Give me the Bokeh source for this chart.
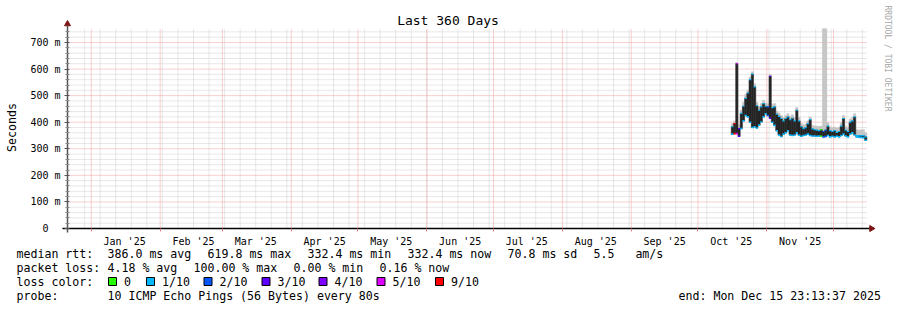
import math
import pandas as pd
from bokeh.plotting import figure
from bokeh.models import Range1d, FixedTicker, Label, BoxAnnotation
from bokeh.embed import file_html
from bokeh.resources import INLINE

# ---------------- data ----------------
REF = pd.Timestamp("2024-12-20")
first_day = "2025-10-16"

# median rtt band per day (ms): lower / upper envelope of the median line
med_lo = [355, 357, 357, 347, 376, 405, 425, 420, 400, 380,
          383, 378, 389, 401, 420, 432, 425, 415, 400, 388,
          368, 352, 346, 355, 360, 368, 352, 350, 352, 360,
          351, 347, 350, 352, 355, 350, 348, 348, 347, 348,
          347, 345, 346, 350, 345, 347, 345, 347, 345, 350,
          355, 348, 345, 355, 360, 352, 345, 344, 343, 342,
          332]
med_hi = [383, 395, 620, 376, 433, 460, 490, 510, 560, 581,
          533, 462, 445, 458, 470, 460, 458, 573, 455, 458,
          430, 422, 414, 405, 414, 420, 410, 415, 405, 445,
          405, 383, 376, 380, 395, 410, 375, 372, 370, 368,
          372, 365, 370, 385, 368, 365, 368, 362, 365, 385,
          414, 370, 365, 400, 405, 420, 350, 349, 350, 350,
          345]
# top of the grey "smoke" (ms)
smoke_hi = [395, 405, 625, 390, 445, 475, 505, 520, 570, 590,
            545, 475, 458, 470, 482, 472, 470, 580, 468, 470,
            442, 435, 425, 418, 425, 432, 422, 428, 418, 455,
            418, 395, 390, 392, 405, 420, 388, 386, 385, 384,
            386, 752, 752, 398, 382, 380, 382, 378, 380, 398,
            425, 384, 380, 412, 418, 432, 372, 370, 372, 372,
            360]
# packet loss per day (tenths)
loss_tenths = [1, 9, 5, 3, 1, 1, 1, 1, 1, 1,
               1, 1, 1, 1, 1, 1, 2, 3, 1, 1,
               1, 1, 1, 1, 1, 1, 1, 1, 1, 1,
               1, 1, 1, 1, 1, 1, 1, 1, 1, 1,
               0, 2, 2, 1, 1, 1, 1, 1, 1, 1,
               1, 1, 1, 1, 1, 1, 1, 1, 1, 1,
               1]

loss_keys = [0, 1, 2, 3, 4, 5, 9]
loss_names = ["0", "1/10", "2/10", "3/10", "4/10", "5/10", "9/10"]
loss_colors = ["#26ff00", "#00b8ff", "#0059ff", "#5e00ff", "#7e00ff", "#dd00ff", "#ff0000"]

month_starts = ["2025-01-01", "2025-02-01", "2025-03-01", "2025-04-01", "2025-05-01",
                "2025-06-01", "2025-07-01", "2025-08-01", "2025-09-01", "2025-10-01",
                "2025-11-01", "2025-12-01"]
month_labels = ["Jan '25", "Feb '25", "Mar '25", "Apr '25", "May '25", "Jun '25",
                "Jul '25", "Aug '25", "Sep '25", "Oct '25", "Nov '25"]
y_ticks = [0, 100, 200, 300, 400, 500, 600, 700]
y_tick_labels = ["0\u00a0\u00a0", "100 m", "200 m", "300 m", "400 m", "500 m", "600 m", "700 m"]

title_text = "Last 360 Days"
legend_rtt = [(16, "median rtt:"), (107, "386.0 ms avg"), (207, "619.8 ms max"),
              (307, "332.4 ms min"), (407, "332.4 ms now"), (507, "70.8 ms sd"),
              (593, "5.5\u00a0\u00a0\u00a0am/s")]
legend_loss = [(16, "packet loss:"), (107, "4.18 % avg"), (193, "100.00 % max"),
               (293, "0.00 % min"), (379, "0.16 % now")]
legend_probe = [(16, "probe:"), (107, "10 ICMP Echo Pings (56 Bytes) every 80s"),
                (678, "end: Mon Dec 15 23:13:37 2025")]
box_lefts = [108, 146, 203.5, 261.5, 318.5, 376.5, 435]


def day(s):
    return (pd.Timestamp(s) - REF) / pd.Timedelta(days=1)


dates = pd.date_range(first_day, periods=len(med_lo), freq="D")
xs = [day(d) + 0.5 for d in dates]
color_of = dict(zip(loss_keys, loss_colors))
mark_colors = [color_of[v] for v in loss_tenths]

month_days = [int(day(m)) for m in month_starts]
label_days = [md + 15 for md in month_days[:len(month_labels)]]
week_days = [day(d) for d in pd.date_range("2024-12-29", "2025-12-15", freq="7D")]

# ---------------- geometry ----------------
W, H = 897, 310
GX, GY = 67, 228                 # graph origin in canvas pixels
PPD = 800 / 360                  # pixels per day
X0 = 1.3                         # day at graph origin
Y_GRAPH = 752.7                  # value at graph top (200 px above origin)
K = Y_GRAPH / 200.0              # value per pixel

x_start = X0 - GX / PPD
x_end = X0 + (W - GX) / PPD
y_start = -(H - GY) * K
y_end = GY * K

MONO = "DejaVu Sans Mono"

p = figure(width=W, height=H, x_range=Range1d(x_start, x_end), y_range=Range1d(y_start, y_end),
           output_backend="svg", toolbar_location=None, title=None,
           min_border=0, min_border_left=0, min_border_right=0,
           min_border_top=0, min_border_bottom=0)
p.xgrid.visible = False
p.ygrid.visible = False
p.outline_line_color = None
p.background_fill_color = "white"
p.border_fill_color = "white"

# grid
minor_y = [v for v in range(20, 760, 20) if v % 100 != 0]
GRID_END = X0 + 360
p.segment(x0=X0, x1=GRID_END, y0=minor_y, y1=minor_y, line_color="#cfcfcf",
          line_width=1, line_dash="1 1")
p.segment(x0=week_days, x1=week_days, y0=0, y1=Y_GRAPH, line_color="#cfcfcf",
          line_width=1, line_dash="1 1")
p.segment(x0=X0, x1=GRID_END, y0=y_ticks, y1=y_ticks, line_color="#f2a0a0",
          line_width=1, line_dash="1 1")
p.segment(x0=month_days, x1=month_days, y0=0, y1=Y_GRAPH, line_color="#f2a0a0",
          line_width=1, line_dash="1 1")

# data
p.vbar(x=xs, width=1.0, bottom=med_lo, top=smoke_hi, fill_color="#c4c4c4",
       line_color="#c4c4c4", line_width=0.5)
p.vbar(x=xs, width=1.0, bottom=med_lo, top=med_hi, fill_color="#242424",
       line_color="#242424", line_width=0.5)
x_left = [x - 0.5 for x in xs]
x_right = [x + 0.5 for x in xs]
p.segment(x0=x_left, x1=x_right, y0=med_lo, y1=med_lo, line_color=mark_colors, line_width=1.6)
p.segment(x0=x_left, x1=x_right, y0=med_hi, y1=med_hi, line_color=mark_colors, line_width=1.2)

# axes drawn at fixed locations inside the canvas-wide frame
xa = p.xaxis[0]
xa.fixed_location = 0
xa.bounds = (X0 - 5 / PPD, X0 + 802 / PPD)
xa.ticker = FixedTicker(ticks=label_days, minor_ticks=month_days)
xa.major_label_overrides = {d: t for d, t in zip(label_days, month_labels)}
xa.major_tick_line_color = None
xa.major_tick_out = 0
xa.major_tick_in = 0
xa.minor_tick_out = 3
xa.minor_tick_in = 0
xa.minor_tick_line_color = "#e08080"
xa.major_label_standoff = 4
xa.axis_line_color = "#000000"
xa.axis_line_width = 1.5
xa.major_label_text_font = MONO
xa.major_label_text_font_size = "10px"
xa.major_label_text_color = "#000000"

ya = p.yaxis[0]
ya.fixed_location = X0
ya.bounds = (-4 * K, 203 * K)
ya.ticker = FixedTicker(ticks=y_ticks, minor_ticks=minor_y)
ya.major_label_overrides = {v: t for v, t in zip(y_ticks, y_tick_labels)}
ya.axis_line_color = "#555555"
ya.axis_line_width = 1.5
ya.major_tick_out = 3
ya.major_tick_in = 2
ya.minor_tick_out = 2
ya.minor_tick_in = 2
ya.major_tick_line_color = "#555555"
ya.minor_tick_line_color = "#888888"
ya.major_label_standoff = 4
ya.major_label_text_font = MONO
ya.major_label_text_font_size = "10px"
ya.major_label_text_color = "#000000"

# axis arrows
p.scatter(x=[X0], y=[204.5 * K], marker="triangle", size=6, fill_color="#7f1414",
          line_color="#7f1414")
p.scatter(x=[X0 + 804 / PPD], y=[0], marker="triangle", angle=-math.pi / 2, size=6,
          fill_color="#7f1414", line_color="#7f1414")


# ---------------- texts (screen units = canvas pixels, y from bottom) ----------------
def lab(cx, cy, text, size="11.6px", align="left", baseline="middle",
        color="#000000", angle=0.0, font=MONO):
    p.add_layout(Label(x=cx, y=H - cy, x_units="screen", y_units="screen", text=text,
                       text_font=font, text_font_size=size, text_align=align,
                       text_baseline=baseline, text_color=color, angle=angle))


ROWS = [253.6, 267.6, 281.3, 295.3]

lab(447.5, 19.5, title_text, size="13px", align="center")
lab(11, 127, "Seconds", size="11.6px", align="center", angle=math.pi / 2)
lab(886.5, 5, "RRDTOOL / TOBI OETIKER", size="8px", align="left",
    color="#a8a8a8", angle=-math.pi / 2)

for cx, t in legend_rtt:
    lab(cx, ROWS[0], t)
for cx, t in legend_loss:
    lab(cx, ROWS[1], t)
lab(16, ROWS[2], "loss color:")
for bx, name, col in zip(box_lefts, loss_names, loss_colors):
    p.add_layout(BoxAnnotation(left=bx, right=bx + 8, top=H - 277, bottom=H - 285,
                               left_units="screen", right_units="screen",
                               top_units="screen", bottom_units="screen",
                               fill_color=col, fill_alpha=1.0, line_color="#000000",
                               line_width=1, line_alpha=1.0))
    lab(bx + 15.5, ROWS[2], name)
for cx, t in legend_probe:
    lab(cx, ROWS[3], t)

open("out.html", "w").write(file_html(p, INLINE))
